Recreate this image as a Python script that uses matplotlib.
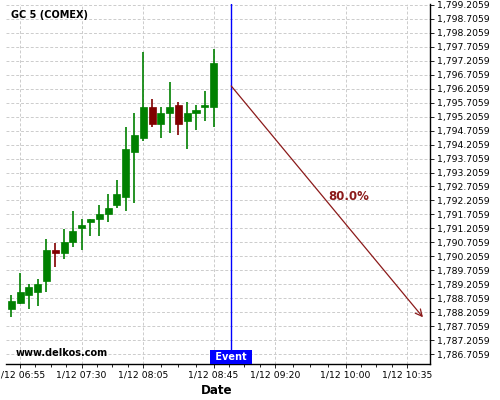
import datetime as dt
import numpy as np
import matplotlib
matplotlib.use("Agg")
import matplotlib.pyplot as plt
import matplotlib.dates as mdates
from matplotlib.ticker import FixedLocator, FuncFormatter

# ---- datos (velas de 5 min, GC 5 COMEX, 12 enero) ----
times = ["06:50", "06:55", "07:00", "07:05", "07:10", "07:15", "07:20", "07:25",
         "07:30", "07:35", "07:40", "07:45", "07:50", "07:55", "08:00", "08:05",
         "08:10", "08:15", "08:20", "08:25", "08:30", "08:35", "08:40", "08:45"]
opens = [1788.34, 1788.55, 1788.84, 1788.94, 1789.34, 1790.44, 1790.34, 1790.73,
         1791.23, 1791.45, 1791.55, 1791.73, 1792.05, 1792.34, 1793.95, 1794.45,
         1795.55, 1794.95, 1795.34, 1795.62, 1795.06, 1795.34, 1795.55, 1795.55]
highs = [1788.83, 1789.60, 1789.21, 1789.41, 1790.82, 1790.70, 1791.20, 1791.83,
         1791.53, 1791.54, 1792.03, 1792.43, 1792.93, 1794.84, 1795.32, 1797.53,
         1795.82, 1795.55, 1796.43, 1795.72, 1795.72, 1795.62, 1796.12, 1797.61]
lows = [1788.03, 1788.52, 1788.32, 1788.43, 1788.92, 1789.82, 1790.10, 1790.53,
        1790.44, 1790.93, 1790.93, 1791.43, 1791.93, 1791.82, 1792.10, 1794.33,
        1794.82, 1794.43, 1794.61, 1794.54, 1794.04, 1794.73, 1795.04, 1794.82]
closes = [1788.61, 1788.93, 1789.11, 1789.22, 1790.44, 1790.34, 1790.72, 1791.11,
          1791.33, 1791.54, 1791.72, 1791.94, 1792.44, 1794.05, 1794.55, 1795.55,
          1794.95, 1795.33, 1795.55, 1794.95, 1795.33, 1795.44, 1795.58, 1797.12]

event_time = "08:55"
arrow_start = ("08:55", 1796.30)
arrow_end = ("10:44", 1788.03)
prob_label = "80.0%"

xtick_times = ["06:55", "07:30", "08:05", "08:45", "09:20", "10:00", "10:35"]
yticks = [1786.7059 + 0.5 * i for i in range(26)]
x_range = ("06:47", "10:48")
y_range = (1786.36, 1799.23)

DAY = dt.date(2021, 1, 12)


def t(hhmm):
    h, m = map(int, hhmm.split(":"))
    return mdates.date2num(dt.datetime.combine(DAY, dt.time(h, m)))


GREEN = "#008000"
RED = "#800000"

fig = plt.figure(figsize=(5, 4), dpi=100)
ax = fig.add_axes([0.012, 0.09, 0.848, 0.9])

# velas
w = 4 / 1440
for tm, o, h, l, c in zip(times, opens, highs, lows, closes):
    x = t(tm)
    col = GREEN if c >= o else RED
    ax.vlines(x, l, h, color=col, lw=1.2, zorder=3)
    lo, hi = min(o, c), max(o, c)
    ax.bar(x, max(hi - lo, 0.06), bottom=lo, width=w, color=col,
           edgecolor=col, lw=0.5, zorder=4)

# evento + flecha de prediccion
ax.axvline(t(event_time), color="#0000ff", lw=1.0, zorder=5)
ax.annotate("", xy=(t(arrow_end[0]), arrow_end[1]),
            xytext=(t(arrow_start[0]), arrow_start[1]),
            arrowprops=dict(arrowstyle="->", color="#8b1a1a", lw=0.9,
                            mutation_scale=12, shrinkA=0, shrinkB=0), zorder=5)
ax.text(t("10:02"), 1792.35, prob_label, color="#8b1a1a", fontsize=8.5,
        fontweight="bold", ha="center", va="center")

ax.set_xlim(t(x_range[0]), t(x_range[1]))
ax.set_ylim(*y_range)

majors = [t(s) for s in xtick_times]
minors = []
for a, b in zip(majors[:-1], majors[1:]):
    minors += list(np.linspace(a, b, 5)[1:-1])
ax.xaxis.set_major_locator(FixedLocator(majors))
ax.xaxis.set_minor_locator(FixedLocator(minors))
ax.xaxis.set_major_formatter(FuncFormatter(
    lambda v, p: "1/12 " + mdates.num2date(v).strftime("%H:%M")))
ax.yaxis.set_major_locator(FixedLocator(yticks))
ax.yaxis.set_major_formatter(FuncFormatter(lambda v, p: "{:,.4f}".format(v)))
ax.yaxis.tick_right()

ax.tick_params(axis="both", labelsize=6.7, length=3, width=0.6, pad=2)
ax.tick_params(axis="x", which="minor", length=2, width=0.6)
ax.grid(True, which="major", color="#cccccc", ls=(0, (3, 2)), lw=0.7)

for s in ["top", "left"]:
    ax.spines[s].set_visible(False)
ax.spines["bottom"].set_linewidth(1.0)
ax.spines["right"].set_linewidth(1.0)

ax.set_xlabel("Date", fontsize=8.6, fontweight="bold", labelpad=2)
ax.xaxis.set_label_coords(0.497, -0.055)

ax.text(0.012, 0.97, "GC 5 (COMEX)", transform=ax.transAxes, fontsize=7,
        fontweight="bold", va="center", ha="left")
ax.text(0.022, 0.03, "www.delkos.com", transform=ax.transAxes, fontsize=7,
        fontweight="bold", va="center", ha="left")
ax.text(t(event_time), y_range[0] + 0.07, " Event ", color="white", fontsize=7,
        fontweight="bold", ha="center", va="bottom", zorder=6,
        bbox=dict(boxstyle="square,pad=0.22", fc="#0000ff", ec="none"))

fig.savefig("out.png", dpi=100)
